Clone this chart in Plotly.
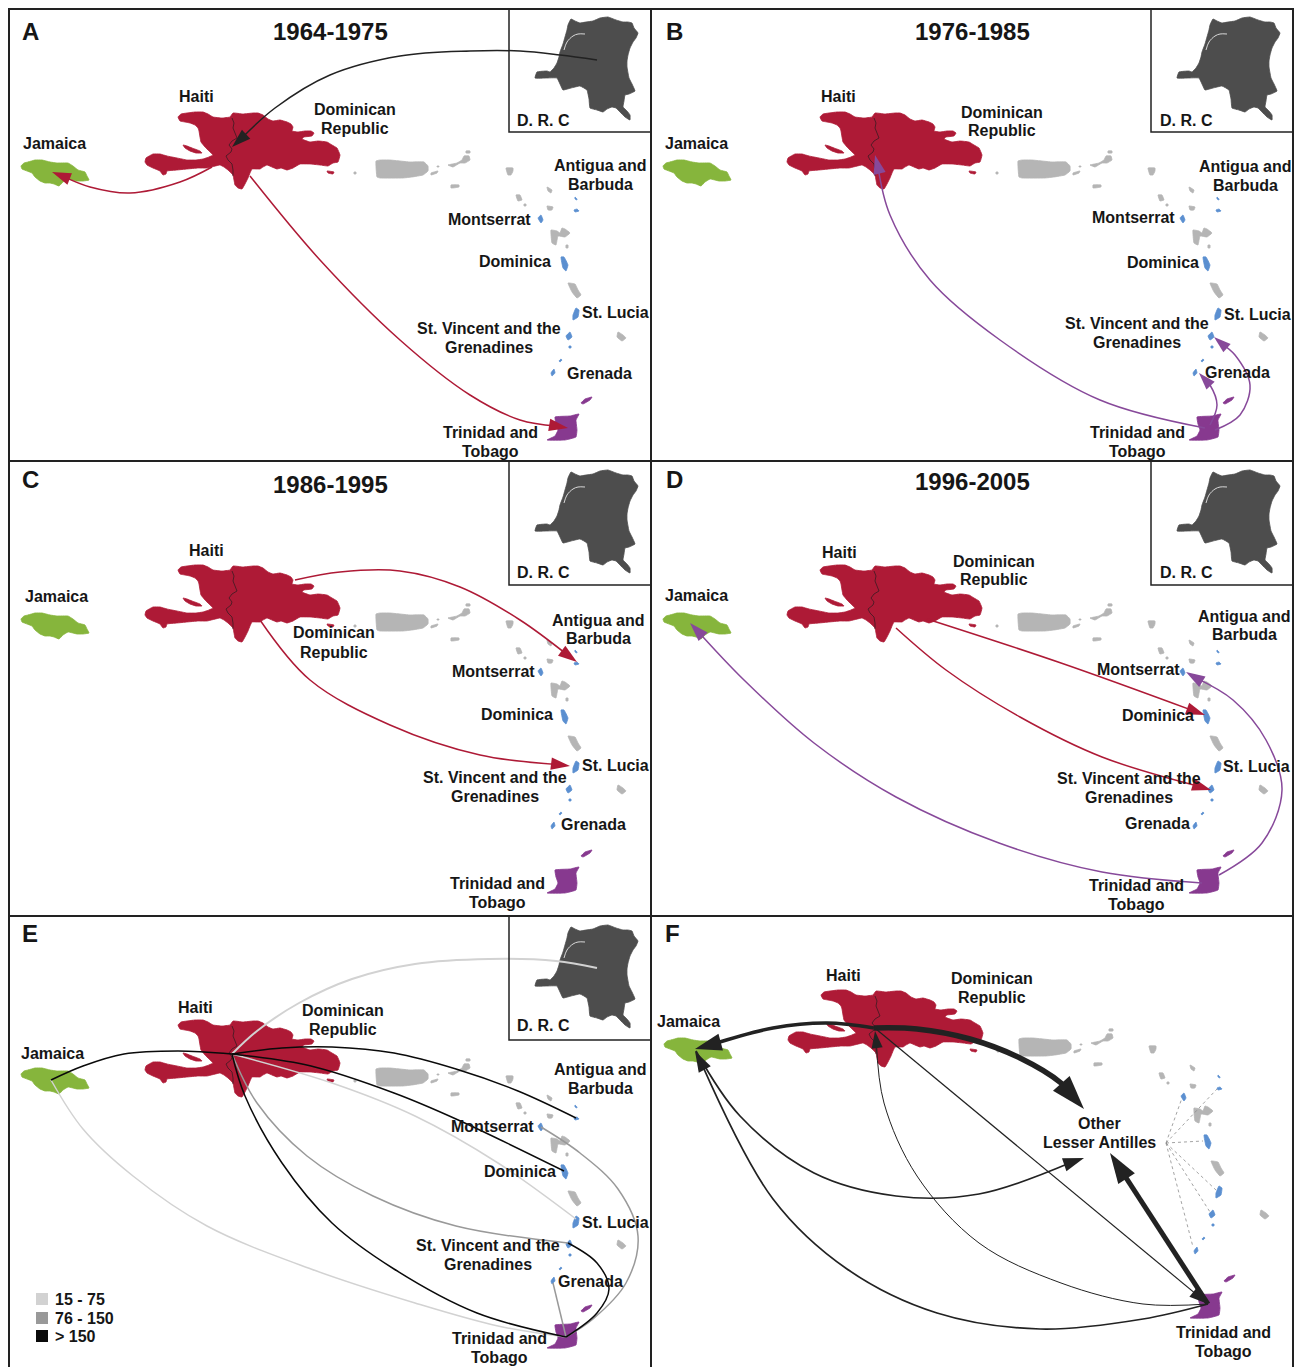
import math
import plotly.graph_objects as go

W, H = 1294, 1367
FONT = "Liberation Sans"
RED, GREEN, PURPLE, BLUE, GREY, DARK = "#ae1a36", "#86b53c", "#87398f", "#5b8fd0", "#b5b5b5", "#4d4d4d"
ARROW_RED, ARROW_PURPLE, INK = "#ae1a36", "#87499a", "#222222"
LIGHT, MID, BLACK = "#d2d2d2", "#999999", "#0a0a0a"

# ---------- map outlines ----------
hispaniola = [(178,117),(181,114),(187,113),(195,112),(203,112),(208,114),(213,117),(222,118),(230,117),(233,113),
 (243,114),(253,113),(258,113),(263,115),(268,119),(273,121),(280,120),(287,122),(291,124),(293,127),(292,131),(298,132),
 (305,131),(311,131),(314,133),(312,136),(304,137),(302,139),(310,142),(318,141),(327,142),(332,145),(337,148),(340,155),(338,162),(333,163),(328,166),(320,165),(310,164),
 (300,164),(293,168),(287,170),(281,168),(277,169),(272,167),(267,165),(263,167),(260,169),(252,169),(250,173),(248,178),
 (245,184),(242,189),(238,188),(235,185),(234,180),(233,175),(228,170),(224,167),(220,165),(207,168),(198,168),(187,169),
 (177,170),(167,171),(166,174),(163,175),(160,171),(153,168),(147,165),(145,162),(146,158),(153,154),(160,154),(167,156),
 (177,158),(187,160),(196,160),(203,159),(209,157),(213,155),(209,151),(205,147),(201,142),(200,137),(199,131),(198,128),
 (195,125),(190,123),(185,122),(180,121)]
gonave = [(183,145),(187,146),(192,148),(200,151),(202,153),(196,153),(190,151),(185,148)]
saona = [(327,171),(334,172),(333,174),(328,173)]
jamaica = [(21,166),(24,163),(28,162),(35,160),(42,160),(50,162),(57,163),(68,163),(73,166),(78,170),(85,172),(87,176),(89,180),
 (83,181),(77,181),(68,179),(63,182),(59,186),(54,184),(50,183),(45,183),(40,181),(35,177),(32,173),(27,171),(22,169)]
drc = [(571,19),(575,21),(580,23),(586,22),(593,21),(600,18),(608,17),(616,20),(623,22),(628,22),(632,23),(634,28),(638,33),(636,38),
 (633,42),(630,48),(628,55),(627,61),(627,67),(628,73),(629,78),(632,84),(635,91),(629,94),(625,95),(624,101),(623,107),(627,111),
 (630,115),(630,120),(625,117),(620,112),(616,108),(612,107),(607,109),(603,112),(597,110),(590,108),(589,99),(587,90),(580,86),
 (571,88),(563,90),(560,84),(557,78),(546,78),(535,78),(537,72),(547,71),(550,72),(554,68),(557,63),(559,57),(560,52),(563,44),
 (565,37),(567,30),(568,25)]
drc_river = [(585,34),(578,34),(573,36),(567,42),(564,50)]
haiti_border = [(232,118),(234,123),(233,128),(235,134),(237,138),(232,141),(229,145),(232,149),(231,152),(226,156),(228,160),(232,164),(233,170),(233,176)]
grey_islands = [
 [(376,161),(380,160),(390,160),(410,162),(424,162),(428,166),(428,171),(423,175),(412,177),(403,178),(380,178),(377,177)],
 [(431,173),(438,171),(437,173),(431,175)],
 [(437,166),(439,166),(439,167),(437,167)],
 [(448,165),(457,163),(462,160),(464,156),(469,156),(470,160),(465,163),(460,163),(453,167)],
 [(466,151),(470,151),(470,153),(466,153)],
 [(451,185),(459,185),(459,187),(451,188)],
 [(506,168),(513,168),(513,171),(511,175),(508,175)],
 [(516,195),(520,195),(522,200),(518,201)],
 [(524,204),(526,204),(526,206),(524,206)],
 [(547,187),(552,190),(551,193),(548,191)],
 [(547,206),(553,207),(552,210),(548,210)],
 [(551,230),(557,231),(560,233),(562,228),(565,229),(570,233),(565,237),(558,236),(556,245),(552,243)],
 [(566,245),(568,245),(568,248),(566,248)],
 [(568,283),(575,284),(578,290),(581,295),(577,298),(572,292)],
 [(618,332),(623,335),(626,338),(622,341),(617,337)],
 [(354,172),(356,172),(356,174),(354,174)],
]
blue_islands = [
 [(575,197),(577,199),(577,200),(575,199)],
 [(574,210),(577,209),(579,211),(575,212)],
 [(538,218),(541,215),(543,220),(541,223)],
 [(561,257),(564,257),(568,265),(566,271),(563,268)],
 [(576,308),(579,310),(578,317),(573,320),(573,315)],
 [(570,332),(572,337),(568,340),(566,336)],
 [(569,346),(571,346),(571,348),(569,348)],
 [(561,359),(562,360),(560,362),(559,361)],
 [(554,369),(555,373),(552,376),(551,373)],
]
trinidad = [(555,417),(570,416),(579,414),(576,420),(577,430),(576,437),(565,440),(547,440),(555,436),(558,430),(556,424)]
tobago = [(592,397),(590,400),(583,404),(581,403),(585,399)]

# ---------- panels: name, pixel box, map offset ----------
panel_names = ["A", "B", "C", "D", "E", "F"]
panel_x = [(9,651),(651,1293),(9,651),(651,1293),(9,651),(651,1293)]
panel_y = [(9,461),(9,461),(461,916),(461,916),(916,1367),(916,1367)]
map_dx = [0,642,0,642,0,643]
map_dy = [0,0,453,453,908,878]
panel_titles = ["1964-1975","1976-1985","1986-1995","1996-2005",None,None]
title_pos = [(330,31),(972,31),(330,485),(972,482)]
letter_pos = [(30,31),(674,31),(30,480),(674,480),(30,933),(672,933)]

# ---------- labels ----------
labels_A = [("Jamaica",54,143),("Haiti",196,96),("Dominican",355,109),("Republic",355,128),("Antigua and",600,165),("Barbuda",600,184),
 ("Montserrat",489,219),("Dominica",515,261),("St. Lucia",615,312),("St. Vincent and the",489,328),("Grenadines",489,347),("Grenada",599,373),
 ("Trinidad and",490,432),("Tobago",490,451),("D. R. C",543,120)]
labels_B = [("Jamaica",696,143),("Haiti",838,96),("Dominican",1002,112),("Republic",1002,130),("Antigua and",1245,166),("Barbuda",1245,185),
 ("Montserrat",1133,217),("Dominica",1163,262),("St. Lucia",1257,314),("St. Vincent and the",1137,323),("Grenadines",1137,342),("Grenada",1237,372),
 ("Trinidad and",1137,432),("Tobago",1137,451),("D. R. C",1186,120)]
labels_C = [("Jamaica",56,597),("Haiti",206,551),("Dominican",334,633),("Republic",334,653),("Antigua and",598,621),("Barbuda",598,639),
 ("Montserrat",493,672),("Dominica",517,715),("St. Lucia",615,766),("St. Vincent and the",495,778),("Grenadines",495,797),("Grenada",593,825),
 ("Trinidad and",497,884),("Tobago",497,903),("D. R. C",543,573)]
labels_D = [("Jamaica",696,596),("Haiti",839,553),("Dominican",994,562),("Republic",994,580),("Antigua and",1244,617),("Barbuda",1244,635),
 ("Montserrat",1138,670),("Dominica",1158,716),("St. Lucia",1256,767),("St. Vincent and the",1129,779),("Grenadines",1129,798),("Grenada",1157,824),
 ("Trinidad and",1136,886),("Tobago",1136,905),("D. R. C",1186,573)]
labels_E = [("Jamaica",52,1053),("Haiti",195,1007),("Dominican",343,1010),("Republic",343,1029),("Antigua and",600,1069),("Barbuda",600,1088),
 ("Montserrat",492,1126),("Dominica",520,1171),("St. Lucia",615,1222),("St. Vincent and the",488,1245),("Grenadines",488,1264),("Grenada",590,1281),
 ("Trinidad and",499,1338),("Tobago",499,1357),("D. R. C",543,1025)]
labels_F = [("Jamaica",688,1021),("Haiti",843,975),("Dominican",992,978),("Republic",992,997),("Other",1099,1123),("Lesser Antilles",1099,1142),
 ("Trinidad and",1223,1332),("Tobago",1223,1351)]
panel_labels = [labels_A, labels_B, labels_C, labels_D, labels_E, labels_F]

legend_names = ["15 - 75","76 - 150","> 150"]
legend_colors = [LIGHT, MID, BLACK]
legend_y = [1299,1318,1336]

# ---------- flows: waypoints, colour, width, arrowhead size (0 = none) ----------
flows_A = [
 ([(597,60),(560,55),(520,51),(470,51),(400,56),(330,75),(275,108),(232,147)], INK, 1.5, 20),
 ([(212,167),(180,182),(130,193),(90,187),(52,172)], ARROW_RED, 1.5, 20),
 ([(250,176),(320,260),(400,340),(470,395),(520,420),(568,428)], ARROW_RED, 1.5, 20),
]
flows_B = [
 ([(1205,428),(1100,400),(1000,340),(930,280),(890,215),(875,155)], ARROW_PURPLE, 1.5, 20),
 ([(1210,425),(1217,405),(1210,385),(1199,373)], ARROW_PURPLE, 1.5, 18),
 ([(1215,430),(1240,415),(1250,385),(1235,355),(1214,337)], ARROW_PURPLE, 1.5, 18),
]
flows_C = [
 ([(295,580),(340,572),(400,571),(460,587),(520,620),(577,662)], ARROW_RED, 1.5, 20),
 ([(260,620),(310,680),(390,725),(480,755),(570,766)], ARROW_RED, 1.5, 20),
]
flows_D = [
 ([(927,619),(1061,663),(1205,715)], ARROW_RED, 1.5, 20),
 ([(896,628),(946,670),(1020,717),(1102,757),(1211,790)], ARROW_RED, 1.5, 20),
 ([(1202,883),(1102,872),(999,843),(896,797),(814,743),(744,680),(690,623)], ARROW_PURPLE, 1.5, 20),
 ([(1219,875),(1262,843),(1282,790),(1266,740),(1233,700),(1186,672)], ARROW_PURPLE, 1.5, 20),
]
flows_E = [
 ([(597,968),(556,961),(489,959),(415,964),(352,979),(299,1003),(257,1031),(232,1054)], LIGHT, 2, 0),
 ([(51,1080),(83,1129),(133,1176),(207,1226),(311,1269),(415,1303),(498,1326),(566,1337)], LIGHT, 1.5, 0),
 ([(232,1054),(332,1083),(415,1116),(498,1163),(576,1219)], LIGHT, 1.5, 0),
 ([(232,1054),(257,1103),(307,1156),(373,1196),(456,1226),(568,1243)], MID, 1.5, 0),
 ([(553,1283),(566,1337)], MID, 1.5, 0),
 ([(541,1127),(580,1153),(618,1189),(638,1236),(626,1283),(593,1319),(566,1337)], MID, 1.5, 0),
 ([(51,1080),(83,1066),(124,1054),(178,1051),(232,1054)], BLACK, 1.5, 0),
 ([(232,1054),(282,1048),(332,1047),(394,1053),(456,1069),(518,1091),(576,1118)], BLACK, 1.5, 0),
 ([(232,1054),(311,1066),(394,1093),(456,1119),(564,1171)], BLACK, 1.5, 0),
 ([(232,1054),(245,1096),(282,1163),(332,1223),(394,1269),(477,1313),(566,1337)], BLACK, 1.5, 0),
 ([(568,1243),(597,1263),(609,1289),(597,1313),(566,1337)], BLACK, 1.5, 0),
]
flows_F = [
 ([(874,1028),(917,1029),(970,1039),(1020,1058),(1061,1083),(1084,1109)], INK, 5.5, 36),
 ([(874,1028),(827,1023),(773,1028),(695,1049)], INK, 3.5, 28),
 ([(1208,1304),(1110,1153)], INK, 5, 32),
 ([(876,1029),(1208,1304)], INK, 1.2, 20),
 ([(1208,1304),(1143,1304),(1061,1283),(979,1243),(917,1176),(884,1103),(875,1031)], INK, 1, 18),
 ([(1208,1304),(1143,1319),(1040,1329),(937,1313),(847,1269),(773,1199),(695,1051)], INK, 1.7, 22),
 ([(696,1051),(740,1116),(814,1173),(896,1196),(979,1194),(1084,1158)], INK, 1.7, 22),
]
panel_flows = [flows_A, flows_B, flows_C, flows_D, flows_E, flows_F]

dotted_hub = (1166,1143)
dotted_ends = [(1182,1098),(1217,1089),(1203,1141),(1216,1190),(1210,1212),(1193,1247)]


def flat(polys, dx, dy):
    xs, ys = [], []
    for p in polys:
        xs += [a + dx for a, _ in p] + [p[0][0] + dx, None]
        ys += [b + dy for _, b in p] + [p[0][1] + dy, None]
    return xs, ys


fig = go.Figure()
layout = {}
annotations = []
shapes = []


def fill_polys(polys, color, dx, dy, sub):
    x, y = flat(polys, dx, dy)
    fig.add_trace(go.Scatter(x=x, y=y, mode="lines", fill="toself", fillcolor=color,
                             line=dict(color=color, width=0.8, shape="spline", smoothing=0.3), hoverinfo="skip",
                             showlegend=False, xaxis="x" + sub, yaxis="y" + sub))


def line_path(pts, color, width, sub, dash="solid", head=0, spline=True):
    pts = list(pts)
    tip = pts[-1]
    prev = pts[-2]
    if head:
        # stop the shaft inside the arrowhead so the thick line does not poke through its tip
        d = math.hypot(tip[0] - prev[0], tip[1] - prev[1]) or 1
        back = head * 0.6 / d
        pts[-1] = (tip[0] - (tip[0] - prev[0]) * back, tip[1] - (tip[1] - prev[1]) * back)
    fig.add_trace(go.Scatter(x=[p[0] for p in pts], y=[p[1] for p in pts], mode="lines",
                             line=dict(color=color, width=width, dash=dash,
                                       shape="spline" if spline and len(pts) > 2 else "linear", smoothing=1.0),
                             hoverinfo="skip", showlegend=False, xaxis="x" + sub, yaxis="y" + sub))
    if head:
        fig.add_trace(go.Scatter(x=[prev[0], tip[0]], y=[prev[1], tip[1]], mode="markers",
                                 marker=dict(symbol="arrow", size=[0, head], color=color, opacity=1,
                                             angleref="previous", line=dict(width=0)),
                                 hoverinfo="skip", showlegend=False, xaxis="x" + sub, yaxis="y" + sub))


def text(t, x, y, sub, size=16, anchor="center"):
    annotations.append(dict(text=t, x=x, y=y, xref="x" + sub, yref="y" + sub, showarrow=False,
                            xanchor=anchor, yanchor="middle",
                            font=dict(family=FONT, size=size, color="#161616", weight=700)))


for i, name in enumerate(panel_names):
    sub = "" if i == 0 else str(i + 1)
    key = "" if i == 0 else str(i + 1)
    (x0, x1), (y0, y1) = panel_x[i], panel_y[i]
    layout["xaxis" + key] = dict(domain=[x0 / W, x1 / W], range=[x0, x1], visible=False, fixedrange=True, anchor="y" + key)
    layout["yaxis" + key] = dict(domain=[1 - y1 / H, 1 - y0 / H], range=[y1, y0], visible=False, fixedrange=True, anchor="x" + key)
    dx, dy = map_dx[i], map_dy[i]
    fill_polys([hispaniola, gonave, saona], RED, dx, dy, sub)
    fill_polys([jamaica], GREEN, dx, dy, sub)
    fill_polys(grey_islands, GREY, dx, dy, sub)
    fill_polys(blue_islands, BLUE, dx, dy, sub)
    fill_polys([trinidad, tobago], PURPLE, dx, dy, sub)
    line_path([(a + dx, b + dy) for a, b in haiti_border], "#3a1a22", 0.8, sub, spline=False)
    if name != "F":
        fill_polys([drc], DARK, dx, dy, sub)
        line_path([(a + dx, b + dy) for a, b in drc_river], "#d8d8d8", 1, sub)
        shapes.append(dict(type="rect", xref="x" + sub, yref="y" + sub, x0=509 + dx, x1=651 + dx, y0=9 + dy - 20, y1=132 + dy,
                           line=dict(color="#222222", width=1.5), layer="above"))
    else:
        for end in dotted_ends:
            line_path([dotted_hub, end], "#8c8c8c", 0.8, sub, dash="dot", spline=False)
    for pts, color, width, head in panel_flows[i]:
        line_path(pts, color, width, sub, head=head)
    for t, lx, ly in panel_labels[i]:
        text(t, lx, ly, sub)
    text(name, letter_pos[i][0], letter_pos[i][1], sub, size=24)
    if panel_titles[i]:
        text(panel_titles[i], title_pos[i][0], title_pos[i][1], sub, size=24)
    shapes.append(dict(type="rect", xref="paper", yref="paper", x0=x0 / W, x1=x1 / W,
                       y0=1 - (y1 if y1 < H else H + 20) / H, y1=1 - y0 / H,
                       line=dict(color="#222222", width=2), layer="above"))

# legend of panel E
fig.add_trace(go.Scatter(x=[42, 42, 42], y=legend_y, mode="markers",
                         marker=dict(symbol="square", size=12, color=legend_colors), hoverinfo="skip",
                         showlegend=False, xaxis="x5", yaxis="y5"))
for t, ly in zip(legend_names, legend_y):
    text(t, 53, ly, "5", anchor="left")

fig.update_layout(width=W, height=H, margin=dict(l=0, r=0, t=0, b=0), paper_bgcolor="white", plot_bgcolor="white",
                  showlegend=False, annotations=annotations, shapes=shapes, **layout)
fig.write_html("out.html", config={"displayModeBar": False},
               post_script="document.body.style.margin='0';document.body.style.overflow='hidden';")
